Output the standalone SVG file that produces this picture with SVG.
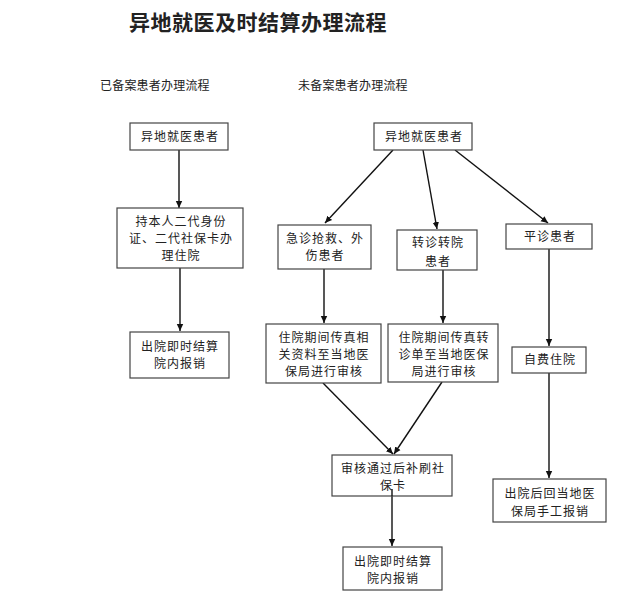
<svg xmlns="http://www.w3.org/2000/svg" width="630" height="609" viewBox="0 0 630 609">
<style>
text{font-family:"Noto Sans CJK SC","Noto Sans",sans-serif;fill:#222;}
.t{font-size:12px;letter-spacing:1px;text-anchor:middle;}
.h{font-size:12px;letter-spacing:0.2px;}
.title{font-size:21px;font-weight:bold;letter-spacing:0.5px;text-anchor:middle;}
rect{fill:#fff;stroke:#444;stroke-width:1.2;}
#connectors line{stroke:#111;stroke-width:1.4;marker-end:url(#ah);}
</style>
<defs>
<marker id="ah" markerUnits="userSpaceOnUse" markerWidth="8" markerHeight="8" refX="7" refY="4" orient="auto">
<path d="M0,0.8 L7,4 L0,7.2 Z" fill="#111"/>
</marker>
</defs>
<rect x="0" y="0" width="630" height="609" style="fill:#fff;stroke:none"/>
<text class="title" x="258" y="30">异地就医及时结算办理流程</text>
<text class="h" x="100" y="90">已备案患者办理流程</text>
<text class="h" x="298" y="90">未备案患者办理流程</text>

<g id="connectors">
<line x1="179" y1="150" x2="179" y2="208"/>
<line x1="180" y1="268" x2="180" y2="331"/>
<line x1="393" y1="150" x2="325" y2="223"/>
<line x1="423" y1="150" x2="437" y2="229"/>
<line x1="455" y1="150" x2="548" y2="223"/>
<line x1="324" y1="269" x2="324" y2="323"/>
<line x1="443" y1="270" x2="443" y2="323"/>
<line x1="549" y1="249" x2="549" y2="346"/>
<line x1="323" y1="383" x2="393" y2="454"/>
<line x1="442" y1="382" x2="394" y2="454"/>
<line x1="392" y1="489" x2="392" y2="546"/>
<line x1="549" y1="373" x2="549" y2="478"/>
</g>

<g id="n1"><rect x="130" y="123" width="98" height="27"/><text class="t" x="180" y="141">异地就医患者</text></g>
<g id="n2"><rect x="117" y="208" width="126" height="60"/>
<text class="t" x="181" y="226">持本人二代身份</text>
<text class="t" x="181" y="243">证、二代社保卡办</text>
<text class="t" x="181" y="260">理住院</text></g>
<g id="n3"><rect x="130" y="332" width="99" height="46"/>
<text class="t" x="180" y="351">出院即时结算</text>
<text class="t" x="180" y="368">院内报销</text></g>

<g id="r1"><rect x="374" y="123" width="98" height="27"/><text class="t" x="424" y="141">异地就医患者</text></g>
<g id="rA"><rect x="278" y="225" width="93" height="44"/>
<text class="t" x="325" y="243">急诊抢救、外</text>
<text class="t" x="325" y="260">伤患者</text></g>
<g id="rB"><rect x="397" y="230" width="80" height="40"/>
<text class="t" x="438" y="247">转诊转院</text>
<text class="t" x="438" y="266">患者</text></g>
<g id="rC"><rect x="506" y="224" width="86" height="25"/>
<text class="t" x="550" y="241">平诊患者</text></g>
<g id="rD"><rect x="266" y="324" width="115" height="59"/>
<text class="t" x="324" y="342">住院期间传真相</text>
<text class="t" x="324" y="359">关资料至当地医</text>
<text class="t" x="324" y="376">保局进行审核</text></g>
<g id="rE"><rect x="388" y="324" width="110" height="58"/>
<text class="t" x="444" y="342">住院期间传真转</text>
<text class="t" x="444" y="359">诊单至当地医保</text>
<text class="t" x="444" y="376">局进行审核</text></g>
<g id="rF"><rect x="512" y="347" width="74" height="26"/>
<text class="t" x="550" y="364">自费住院</text></g>
<g id="rG"><rect x="332" y="455" width="120" height="41"/>
<text class="t" x="393" y="473">审核通过后补刷社</text>
<text class="t" x="393" y="490">保卡</text></g>
<g id="rH"><rect x="343" y="547" width="99" height="43"/>
<text class="t" x="393" y="566">出院即时结算</text>
<text class="t" x="393" y="583">院内报销</text></g>
<g id="rI"><rect x="493" y="479" width="113" height="43"/>
<text class="t" x="550" y="498">出院后回当地医</text>
<text class="t" x="550" y="516">保局手工报销</text></g>
<line x1="392" y1="489" x2="392" y2="496" style="stroke:#111;stroke-width:1.4"/>
</svg>
